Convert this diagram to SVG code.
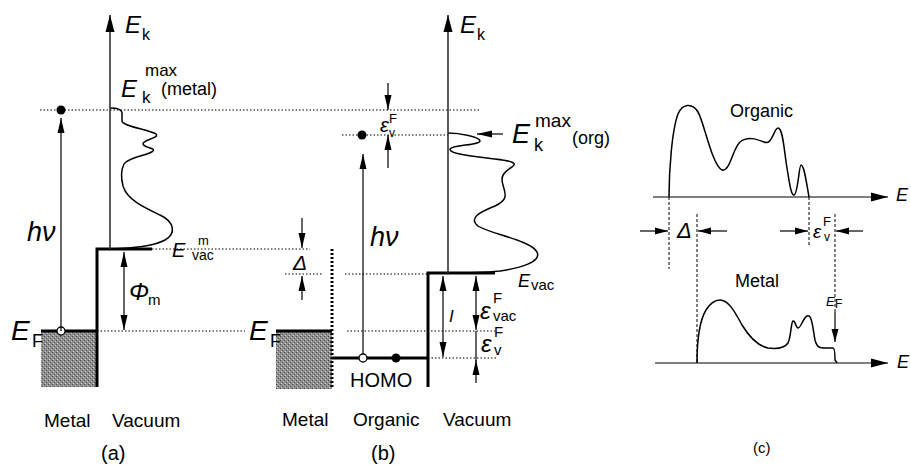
<svg xmlns="http://www.w3.org/2000/svg" width="911" height="465" viewBox="0 0 911 465">
<style>
text{font-family:"Liberation Sans",Arial,sans-serif;fill:#000}
.i{font-style:italic}
.dot{fill:none;stroke:#000;stroke-width:1.2;stroke-dasharray:1.5 2}
.dash{fill:none;stroke:#000;stroke-width:1;stroke-dasharray:3 2}
.thin{fill:none;stroke:#000;stroke-width:1.2}
.axis{fill:none;stroke:#333;stroke-width:1.6}
.thick{fill:none;stroke:#000;stroke-width:3}
.curve{fill:none;stroke:#000;stroke-width:1.5}
.metal{fill:url(#stip)}
</style>
<defs>
<pattern id="stip" width="4" height="4" patternUnits="userSpaceOnUse">
<rect width="4" height="4" fill="#8e8e8e"/><rect x="0" y="0" width="1" height="1" fill="#4a4a4a"/><rect x="2" y="2" width="1" height="1" fill="#555"/><rect x="1" y="3" width="1" height="1" fill="#cfcfcf"/><rect x="3" y="1" width="1" height="1" fill="#bdbdbd"/>
</pattern>
<marker id="ah" markerUnits="userSpaceOnUse" markerWidth="16" markerHeight="8" refX="15" refY="4" orient="auto-start-reverse"><path d="M0,0.5 L15,4 L0,7.5 z" fill="#000"/></marker>
<marker id="ax" markerUnits="userSpaceOnUse" markerWidth="18" markerHeight="10" refX="17" refY="5" orient="auto"><path d="M0,0.5 L17,5 L0,9.5 z" fill="#000"/></marker>
<marker id="sm" markerUnits="userSpaceOnUse" markerWidth="14" markerHeight="8" refX="13" refY="4" orient="auto"><path d="M0,0.5 L13,4 L0,7.5 z" fill="#000"/></marker>
</defs>

<!-- Panel (a) -->
<g id="a-metal">
<rect class="metal" x="41" y="331" width="56" height="56"/>
<path class="thick" d="M41,331 H97 M97,387 V249 H152"/>
<circle cx="61" cy="331" r="4" fill="#fff" stroke="#000" stroke-width="1.3"/>
<text x="11" y="340" font-size="28" class="i">E</text><text x="32" y="347" font-size="18">F</text>
<text x="44" y="427" font-size="19">Metal</text>
<text x="112" y="427" font-size="19">Vacuum</text>
<text x="101" y="460" font-size="20">(a)</text>
</g>
<g id="a-spectrum">
<path class="curve" d="M110,108 C116,108 122,109 122,113 L122,121 C122,126 150,130 156,134 C160,138 142,140 143,144 C144,148 156,148 153,151 C150,155 128,157 124,164 C121,170 121,178 123,186 C127,200 145,208 160,215 C175,222 176,234 165,240 C152,247 130,248 110,249"/>
<circle cx="61" cy="110" r="4.5" fill="#000"/>
<text x="125" y="33" font-size="24" class="i">E</text><text x="142" y="40" font-size="16">k</text>
<text x="121" y="97" font-size="24" class="i">E</text><text x="145" y="76" font-size="17">max</text><text x="142" y="103" font-size="17">k</text><text x="161" y="95" font-size="18">(metal)</text>
<text x="27" y="241" font-size="27" class="i">hν</text>
<text x="172" y="257" font-size="20" class="i">E</text><text x="198" y="245" font-size="13">m</text><text x="192" y="260" font-size="14">vac</text>
<text x="129" y="300" font-size="24" class="i">Φ</text><text x="148" y="305" font-size="15">m</text>
</g>

<!-- Panel (b) -->
<g id="b-metal">
<rect class="metal" x="276" y="331" width="56" height="58"/>
<path class="thick" d="M276,331 H332"/>
<path d="M332,249 V389" fill="none" stroke="#000" stroke-width="3" stroke-dasharray="2 2"/>
<text x="249" y="340" font-size="28" class="i">E</text><text x="270" y="347" font-size="18">F</text>
<text x="293" y="270" font-size="21" class="i">Δ</text>
<text x="282" y="426" font-size="19">Metal</text>
</g>
<g id="b-organic">
<path class="thick" d="M332,358 H428"/>
<circle cx="363" cy="358" r="4" fill="#fff" stroke="#000" stroke-width="1.3"/>
<circle cx="396" cy="358" r="4.5" fill="#000"/>
<circle cx="362" cy="135" r="4.5" fill="#000"/>
<text x="350" y="387" font-size="20">HOMO</text>
<text x="370" y="246" font-size="27" class="i">hν</text>
<text x="380" y="132" font-size="20" class="i">ε</text><text x="389" y="123" font-size="13">F</text><text x="389" y="137" font-size="12">v</text>
<text x="353" y="426" font-size="19">Organic</text>
<text x="371" y="460" font-size="20">(b)</text>
</g>
<g id="b-vacuum">
<path class="thick" d="M428,387 V273 H495"/>
<path class="curve" d="M448,133 C460,133 480,137 480,141 C480,145 452,145 450,149 C449,154 470,156 495,159 C512,161 518,163 512,167 C504,172 500,176 503,185 C506,195 508,200 495,206 C480,212 468,218 478,226 C490,234 530,240 537,252 C542,262 520,268 500,271 C480,273 460,273 448,273"/>
<text x="460" y="33" font-size="24" class="i">E</text><text x="477" y="40" font-size="16">k</text>
<text x="512" y="143" font-size="27" class="i">E</text><text x="535" y="127" font-size="19">max</text><text x="534" y="151" font-size="18">k</text><text x="572" y="144" font-size="18">(org)</text>
<text x="518" y="287" font-size="18" class="i">E</text><text x="531" y="290" font-size="15">vac</text>
<text x="449" y="322" font-size="17" class="i">I</text>
<text x="480" y="319" font-size="24" class="i">ε</text><text x="493" y="303" font-size="15">F</text><text x="493" y="321" font-size="15">vac</text>
<text x="481" y="352" font-size="24" class="i">ε</text><text x="494" y="337" font-size="15">F</text><text x="494" y="355" font-size="15">v</text>
<text x="443" y="426" font-size="19">Vacuum</text>
</g>

<!-- Panel (c) -->
<g id="c-organic">
<path class="curve" d="M669,197 C669,170 672,130 678,114 C682,104 692,102 698,112 C704,122 712,165 722,170 C730,172 732,150 740,142 C748,136 756,139 764,142 C772,146 774,128 778,128 C783,128 784,150 787,168 C789,180 791,196 794,195 C798,194 799,165 801,165 C804,165 806,180 809,197"/>
<text x="730" y="117" font-size="18">Organic</text>
<text x="896" y="201" font-size="18" class="i">E</text>
<text x="677" y="238" font-size="22" class="i">Δ</text>
<text x="813" y="238" font-size="19" class="i">ε</text><text x="823" y="226" font-size="13">F</text><text x="824" y="241" font-size="12">v</text>
</g>
<g id="c-metal">
<path class="curve" d="M697,363 C697,340 700,320 706,310 C711,302 716,300 720,300 C728,300 734,310 742,325 C750,338 758,346 768,348 C776,349 784,349 788,343 C791,337 791,322 793,321 C795,320 796,328 798,328 C801,328 803,318 807,316 C812,313 813,330 815,340 C817,348 820,348 826,348 L833,348 C835,348 835,356 835,360 L837,363"/>
<text x="735" y="287" font-size="18">Metal</text>
<text x="826" y="306" font-size="13" class="i">E</text><text x="835" y="308" font-size="12">F</text>
<text x="897" y="368" font-size="18" class="i">E</text>
<text x="753" y="453" font-size="15">(c)</text>
</g>

<g id="connectors">
<path class="dot" d="M40,110 H480"/>
<path class="dot" d="M152,249 H310"/>
<path class="dot" d="M97,331 H245"/>
<path class="dot" d="M285,274 H323 M345,274 H428"/>
<path class="dot" d="M347,331 H495"/>
<path class="dot" d="M428,358 H498"/>
<path class="dot" d="M342,135 H448"/>
<path class="axis" d="M110,249 V15" marker-end="url(#ax)"/>
<path class="axis" d="M448,273 V15" marker-end="url(#ax)"/>
<path class="thin" d="M653,197 H888" marker-end="url(#ax)"/>
<path class="thin" d="M655,363 H888" marker-end="url(#ax)"/>
<path class="thin" d="M61,331 V118" marker-end="url(#ah)"/>
<path class="thin" d="M363,354 V154" marker-end="url(#ah)"/>
<path class="thin" d="M124,252 V330" marker-start="url(#ah)" marker-end="url(#ah)"/>
<path class="thin" d="M302,218 V248" marker-end="url(#ah)"/>
<path class="thin" d="M302,300 V276" marker-end="url(#ah)"/>
<path class="thin" d="M388,83 V110" marker-end="url(#ah)"/>
<path class="thin" d="M388,168 V135" marker-end="url(#ah)"/>
<path class="thin" d="M503,134 H477" marker-end="url(#ah)"/>
<path class="thin" d="M443,276 V357" marker-start="url(#ah)" marker-end="url(#ah)"/>
<path class="thin" d="M476,276 V330" marker-start="url(#ah)" marker-end="url(#ah)"/>
<path class="thin" d="M476,331 V361"/>
<path class="thin" d="M476,383 V360" marker-end="url(#ah)"/>
<path class="dash" d="M669,197 V269"/>
<path class="dash" d="M697,214 V363"/>
<path class="dash" d="M809,197 V247"/>
<path class="dash" d="M835,214 V312"/>
<path class="thin" d="M640,231 H668" marker-end="url(#sm)"/>
<path class="thin" d="M727,231 H698" marker-end="url(#sm)"/>
<path class="thin" d="M780,231 H808" marker-end="url(#sm)"/>
<path class="thin" d="M863,231 H836" marker-end="url(#sm)"/>
<path class="thin" d="M835,312 V342" marker-end="url(#sm)"/>
</g>
</svg>
